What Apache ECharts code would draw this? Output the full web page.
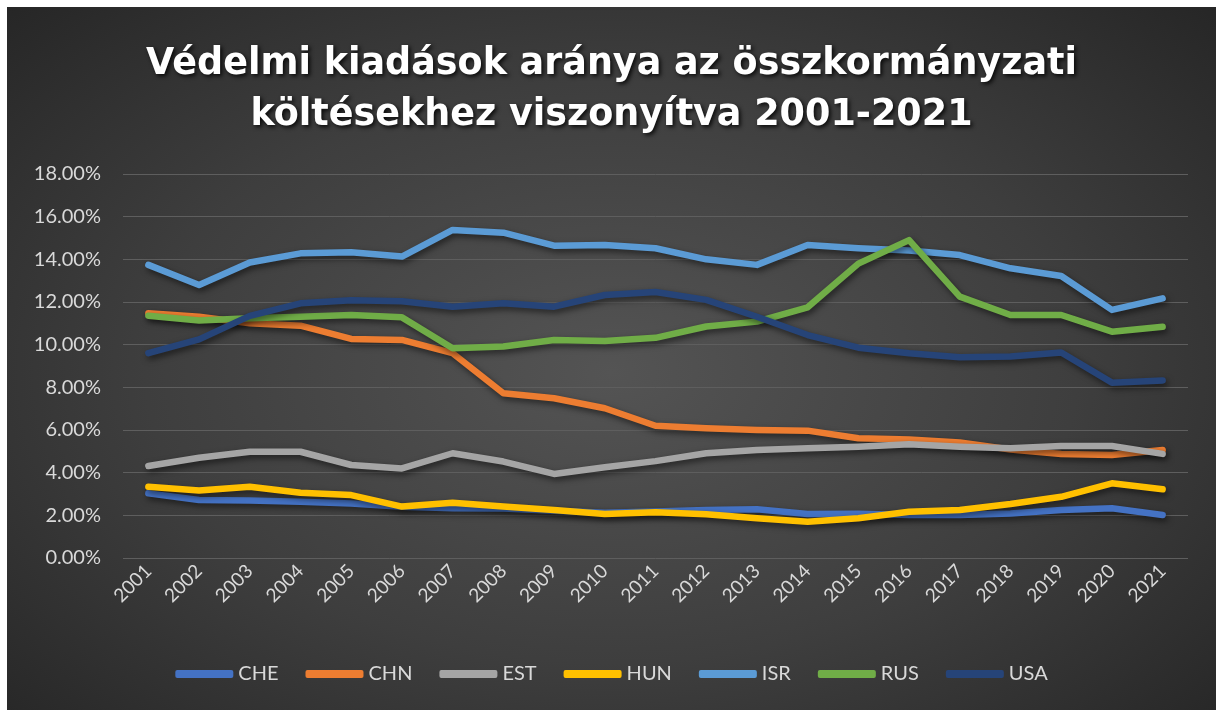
<!DOCTYPE html>
<html>
<head>
<meta charset="utf-8">
<script src="https://cdn.jsdelivr.net/npm/echarts@6/dist/echarts.min.js"></script>
<style>
html,body{margin:0;padding:0;background:#fff;width:1216px;height:710px;overflow:hidden;}
#chart{position:absolute;left:7px;top:7px;width:1209px;height:703px;
background:radial-gradient(ellipse 70% 75% at 50% 52%, #545454 0%, #3e3e3e 55%, #262626 100%);}
</style>
</head>
<body>
<div id="chart"></div>
<script>
const titleText = 'Védelmi kiadások aránya az összkormányzati\nköltésekhez viszonyítva 2001-2021';
const years = ['2001','2002','2003','2004','2005','2006','2007','2008','2009','2010','2011','2012','2013','2014','2015','2016','2017','2018','2019','2020','2021'];
const seriesNames = ['CHE','CHN','EST','HUN','ISR','RUS','USA'];
const seriesColors = ['#4472C4','#ED7D31','#A5A5A5','#FFC000','#5B9BD5','#70AD47','#264478'];
const CHE = [3.03,2.72,2.69,2.64,2.56,2.40,2.33,2.32,2.22,2.12,2.18,2.25,2.28,2.06,2.08,2.02,2.02,2.09,2.25,2.33,2.02];
const CHN = [11.47,11.31,11.00,10.89,10.27,10.22,9.60,7.72,7.49,7.02,6.20,6.08,6.00,5.97,5.61,5.56,5.42,5.09,4.88,4.83,5.06];
const EST = [4.31,4.70,4.98,4.98,4.36,4.20,4.91,4.52,3.94,4.25,4.54,4.91,5.06,5.14,5.22,5.33,5.22,5.14,5.25,5.25,4.88];
const HUN = [3.34,3.16,3.34,3.06,2.95,2.41,2.59,2.41,2.25,2.06,2.15,2.05,1.86,1.70,1.86,2.17,2.25,2.53,2.87,3.50,3.22];
const ISR = [13.74,12.80,13.85,14.28,14.33,14.13,15.38,15.25,14.64,14.67,14.52,14.00,13.74,14.67,14.52,14.41,14.20,13.58,13.22,11.63,12.17];
const RUS = [11.36,11.13,11.24,11.31,11.39,11.28,9.83,9.91,10.22,10.17,10.32,10.85,11.08,11.75,13.80,14.90,12.25,11.39,11.39,10.61,10.84];
const USA = [9.60,10.25,11.35,11.94,12.08,12.04,11.78,11.94,11.78,12.33,12.47,12.10,11.31,10.45,9.86,9.60,9.41,9.44,9.63,8.22,8.32];
const yTicks = {min:0, max:18, interval:2};
const values = [CHE, CHN, EST, HUN, ISR, RUS, USA];

const chart = echarts.init(document.getElementById('chart'), null, {renderer:'canvas'});
const labelColor = '#d9d9d9';
const option = {
  backgroundColor: 'transparent',
  animation: false,
  title: {
    text: titleText,
    left: 'center',
    top: 27,
    textStyle: {
      color: '#ffffff',
      fontFamily: 'DejaVu Sans',
      fontWeight: 'bold',
      fontSize: 36.5,
      lineHeight: 51,
      textShadowColor: 'rgba(0,0,0,0.85)',
      textShadowBlur: 4,
      textShadowOffsetX: 2,
      textShadowOffsetY: 2
    }
  },
  legend: {
    data: seriesNames,
    bottom: 21,
    left: 'center',
    icon: 'roundRect',
    itemWidth: 58,
    itemHeight: 8,
    itemGap: 27,
    textStyle: {color: labelColor, fontSize: 20, fontFamily: 'Liberation Sans Narrow, Lato, sans-serif'}
  },
  grid: {left: 116, right: 28, top: 167, bottom: 152, containLabel: false},
  xAxis: {
    type: 'category',
    data: years,
    boundaryGap: true,
    axisLine: {show: false},
    axisTick: {show: false},
    axisLabel: {color: labelColor, fontSize: 19, rotate: 45, margin: 10, fontFamily: 'Lato, sans-serif'}
  },
  yAxis: {
    type: 'value',
    min: yTicks.min, max: yTicks.max, interval: yTicks.interval,
    axisLine: {show: false},
    axisTick: {show: false},
    splitLine: {lineStyle: {color: '#5e5e5e', width: 1}},
    axisLabel: {color: labelColor, fontSize: 20, margin: 22, fontFamily: 'Lato, sans-serif',
      formatter: v => v.toFixed(2) + '%'}
  },
  series: seriesNames.map((n, i) => ({
    name: n,
    type: 'line',
    data: values[i],
    symbol: 'none',
    color: seriesColors[i],
    lineStyle: {width: 6.5, cap: 'round', join: 'round', color: seriesColors[i],
      shadowColor: 'rgba(0,0,0,0.55)', shadowBlur: 6, shadowOffsetX: 2, shadowOffsetY: 3}
  }))
};
chart.setOption(option);
</script>
</body>
</html>
